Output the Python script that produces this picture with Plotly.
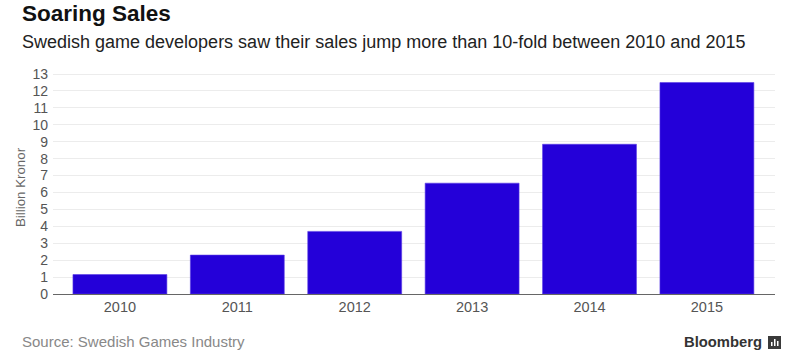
import plotly.graph_objects as go

years = ["2010", "2011", "2012", "2013", "2014", "2015"]
sales = [1.15, 2.3, 3.7, 6.55, 8.85, 12.5]
y_ticks = list(range(0, 14))

W, H = 800, 355
L, R, T, B = 53, 25, 72, 61
pw, ph = W - L - R, H - T - B

def px(x):
    return (x - L) / pw

def py(y):
    return (H - B - y) / ph

fig = go.Figure(go.Bar(
    x=years, y=sales,
    marker=dict(color="#2400D9", line=dict(width=0.6, color="#5A3DE6")),
    width=0.8,
    hoverinfo="skip",
))

font_fam = "Liberation Sans, Arial, Helvetica, sans-serif"

fig.update_layout(
    width=W, height=H,
    margin=dict(l=L, r=R, t=T, b=B),
    paper_bgcolor="white", plot_bgcolor="white",
    showlegend=False,
    font=dict(family=font_fam, color="#666"),
    xaxis=dict(
        type="category", range=[-0.57, 5.58],
        showgrid=False, showline=True, linecolor="#666", linewidth=1,
        ticks="", tickfont=dict(size=14.5, color="#555"),
        fixedrange=True,
    ),
    yaxis=dict(
        range=[0, 13.12], tickvals=y_ticks,
        showgrid=True, gridcolor="#ececec", gridwidth=1,
        zeroline=False, showline=False, ticks="",
        tickfont=dict(size=14, color="#555"),
        ticklabelstandoff=4, fixedrange=True,
    ),
    annotations=[
        dict(text="<b>Soaring Sales</b>", xref="paper", yref="paper",
             x=px(20), y=py(28), xanchor="left", yanchor="bottom",
             showarrow=False, font=dict(size=22.5, color="#111", family=font_fam)),
        dict(text="Swedish game developers saw their sales jump more than 10-fold between 2010 and 2015",
             xref="paper", yref="paper", x=px(20), y=py(54), xanchor="left", yanchor="bottom",
             showarrow=False, font=dict(size=18, color="#222", family=font_fam)),
        dict(text="Billion Kronor", xref="paper", yref="paper", x=px(20), y=py(187),
             xanchor="center", yanchor="middle", textangle=-90, showarrow=False,
             font=dict(size=13.3, color="#666", family=font_fam)),
        dict(text="Source: Swedish Games Industry", xref="paper", yref="paper",
             x=px(20), y=py(352), xanchor="left", yanchor="bottom", showarrow=False,
             font=dict(size=15, color="#888", family=font_fam)),
        dict(text="<b>Bloomberg</b>", xref="paper", yref="paper",
             x=px(764), y=py(352), xanchor="right", yanchor="bottom", showarrow=False,
             font=dict(size=14.8, color="#333", family=font_fam)),
    ],
    shapes=[
        dict(type="rect", xref="paper", yref="paper",
             x0=px(768), x1=px(781), y0=py(349), y1=py(336),
             fillcolor="#3a3a3a", line=dict(width=0)),
        dict(type="rect", xref="paper", yref="paper",
             x0=px(771), x1=px(772.5), y0=py(346), y1=py(342),
             fillcolor="white", line=dict(width=0)),
        dict(type="rect", xref="paper", yref="paper",
             x0=px(774), x1=px(775.5), y0=py(346), y1=py(339),
             fillcolor="white", line=dict(width=0)),
        dict(type="rect", xref="paper", yref="paper",
             x0=px(777), x1=px(778.5), y0=py(346), y1=py(341),
             fillcolor="white", line=dict(width=0)),
    ],
)

fig.write_html("out.html", config={"displayModeBar": False},
               post_script="document.body.style.margin='0';")
